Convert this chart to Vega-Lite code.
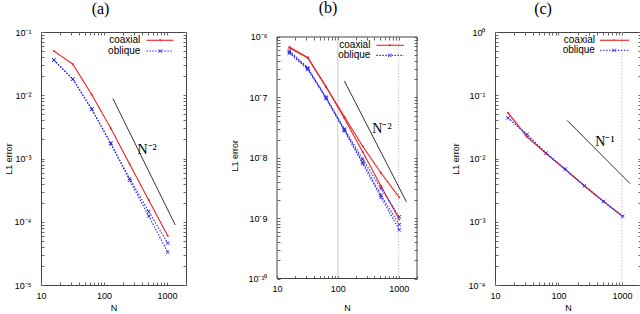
{
"$schema": "https://vega.github.io/schema/vega-lite/v6.json",
"padding": {"left": 3, "top": 0, "right": 0, "bottom": 0},
"background": "white",
"spacing": 43,
"align": "none",
"datasets": {
"pts": [
{"panel":"a","series":"coaxial","run":"a1","N":16,"err":0.050},
{"panel":"a","series":"coaxial","run":"a1","N":32,"err":0.031},
{"panel":"a","series":"coaxial","run":"a1","N":64,"err":0.0102},
{"panel":"a","series":"coaxial","run":"a1","N":128,"err":0.0030},
{"panel":"a","series":"coaxial","run":"a1","N":256,"err":0.00081},
{"panel":"a","series":"coaxial","run":"a1","N":512,"err":0.00022},
{"panel":"a","series":"coaxial","run":"a1","N":1024,"err":0.00006},
{"panel":"a","series":"oblique","run":"a2","N":16,"err":0.036},
{"panel":"a","series":"oblique","run":"a2","N":32,"err":0.018},
{"panel":"a","series":"oblique","run":"a2","N":64,"err":0.0060},
{"panel":"a","series":"oblique","run":"a2","N":128,"err":0.0017},
{"panel":"a","series":"oblique","run":"a2","N":256,"err":0.00048},
{"panel":"a","series":"oblique","run":"a2","N":512,"err":0.000145},
{"panel":"a","series":"oblique","run":"a2","N":1024,"err":0.000046},
{"panel":"a","series":"oblique","run":"a3","N":16,"err":0.036},
{"panel":"a","series":"oblique","run":"a3","N":32,"err":0.018},
{"panel":"a","series":"oblique","run":"a3","N":64,"err":0.0060},
{"panel":"a","series":"oblique","run":"a3","N":128,"err":0.00175},
{"panel":"a","series":"oblique","run":"a3","N":256,"err":0.00045},
{"panel":"a","series":"oblique","run":"a3","N":512,"err":0.000123},
{"panel":"a","series":"oblique","run":"a3","N":1024,"err":0.000033},
{"panel":"b","series":"coaxial","run":"b1","N":16,"err":6.8e-7},
{"panel":"b","series":"coaxial","run":"b1","N":32,"err":4.6e-7},
{"panel":"b","series":"coaxial","run":"b1","N":64,"err":1.5e-7},
{"panel":"b","series":"coaxial","run":"b1","N":128,"err":4.8e-8},
{"panel":"b","series":"coaxial","run":"b1","N":256,"err":1.55e-8},
{"panel":"b","series":"coaxial","run":"b1","N":512,"err":5.6e-9},
{"panel":"b","series":"coaxial","run":"b1","N":1024,"err":2.2e-9},
{"panel":"b","series":"coaxial","run":"b2","N":16,"err":6.6e-7},
{"panel":"b","series":"coaxial","run":"b2","N":32,"err":4.5e-7},
{"panel":"b","series":"coaxial","run":"b2","N":64,"err":1.5e-7},
{"panel":"b","series":"coaxial","run":"b2","N":128,"err":4.5e-8},
{"panel":"b","series":"coaxial","run":"b2","N":256,"err":1.25e-8},
{"panel":"b","series":"coaxial","run":"b2","N":512,"err":3.4e-9},
{"panel":"b","series":"coaxial","run":"b2","N":1024,"err":9.5e-10},
{"panel":"b","series":"oblique","run":"b3","N":16,"err":5.9e-7},
{"panel":"b","series":"oblique","run":"b3","N":32,"err":3.1e-7},
{"panel":"b","series":"oblique","run":"b3","N":64,"err":1.0e-7},
{"panel":"b","series":"oblique","run":"b3","N":128,"err":3.0e-8},
{"panel":"b","series":"oblique","run":"b3","N":256,"err":9.5e-9},
{"panel":"b","series":"oblique","run":"b3","N":512,"err":3.1e-9},
{"panel":"b","series":"oblique","run":"b3","N":1024,"err":1.05e-9},
{"panel":"b","series":"oblique","run":"b4","N":16,"err":5.6e-7},
{"panel":"b","series":"oblique","run":"b4","N":32,"err":3.0e-7},
{"panel":"b","series":"oblique","run":"b4","N":64,"err":9.8e-8},
{"panel":"b","series":"oblique","run":"b4","N":128,"err":2.9e-8},
{"panel":"b","series":"oblique","run":"b4","N":256,"err":8.5e-9},
{"panel":"b","series":"oblique","run":"b4","N":512,"err":2.4e-9},
{"panel":"b","series":"oblique","run":"b4","N":1024,"err":7.8e-10},
{"panel":"b","series":"oblique","run":"b5","N":16,"err":5.4e-7},
{"panel":"b","series":"oblique","run":"b5","N":32,"err":2.9e-7},
{"panel":"b","series":"oblique","run":"b5","N":64,"err":9.6e-8},
{"panel":"b","series":"oblique","run":"b5","N":128,"err":2.8e-8},
{"panel":"b","series":"oblique","run":"b5","N":256,"err":8.0e-9},
{"panel":"b","series":"oblique","run":"b5","N":512,"err":2.2e-9},
{"panel":"b","series":"oblique","run":"b5","N":1024,"err":6.4e-10},
{"panel":"c","series":"coaxial","run":"c1","N":16,"err":0.053},
{"panel":"c","series":"coaxial","run":"c1","N":32,"err":0.022},
{"panel":"c","series":"coaxial","run":"c1","N":64,"err":0.012},
{"panel":"c","series":"coaxial","run":"c1","N":128,"err":0.0067},
{"panel":"c","series":"coaxial","run":"c1","N":256,"err":0.0037},
{"panel":"c","series":"coaxial","run":"c1","N":512,"err":0.0021},
{"panel":"c","series":"coaxial","run":"c1","N":1024,"err":0.00122},
{"panel":"c","series":"oblique","run":"c2","N":16,"err":0.044},
{"panel":"c","series":"oblique","run":"c2","N":32,"err":0.024},
{"panel":"c","series":"oblique","run":"c2","N":64,"err":0.0122},
{"panel":"c","series":"oblique","run":"c2","N":128,"err":0.0068},
{"panel":"c","series":"oblique","run":"c2","N":256,"err":0.0037},
{"panel":"c","series":"oblique","run":"c2","N":512,"err":0.0021},
{"panel":"c","series":"oblique","run":"c2","N":1024,"err":0.00122}
],
"refs": [
{"panel":"a","N":138,"err":0.0089},
{"panel":"a","N":1350,"err":0.000089},
{"panel":"b","N":128,"err":1.87e-7},
{"panel":"b","N":1340,"err":1.86e-9},
{"panel":"c","N":137,"err":0.04},
{"panel":"c","N":1350,"err":0.004}
],
"labels": [
{"panel":"a","N":482,"err":0.00134,"text":"N⁻²"},
{"panel":"b","N":532,"err":3.04e-8,"text":"N⁻²"},
{"panel":"c","N":541,"err":0.0181,"text":"N⁻¹"}
],
"vlines": [
{"panel":"b","N":100,"style":"dash"},
{"panel":"b","N":1000,"style":"dashdot"},
{"panel":"c","N":1000,"style":"dashdot"}
],
"one": [{}]
},
"hconcat": [
{
"width": 145, "height": 253,
"title": {"text": "(a)", "dx": -13, "offset": 11},
"resolve": {"axis": {"x": "independent", "y": "independent"}},
"layer": [
{"data": {"name": "pts"}, "transform": [{"filter": "datum.panel === 'a'"}],
 "mark": {"type": "line", "strokeWidth": 1.1},
 "encoding": {
  "x": {"field": "N", "type": "quantitative", "scale": {"type": "log", "domain": [10, 2000], "nice": false},
   "axis": {"orient": "bottom", "values": [10,20,30,40,50,60,70,80,90,100,200,300,400,500,600,700,800,900,1000,2000], "labelExpr": "datum.value == 10 || datum.value == 100 || datum.value == 1000 ? '' + datum.value : ''", "title": "N", "labelOverlap": false, "labelFlush": false, "labelPadding": 9, "titlePadding": 3}},
  "y": {"field": "err", "type": "quantitative", "scale": {"type": "log", "domain": [0.00001, 0.1], "nice": false},
   "axis": {"orient": "left", "values": [0.00001,0.00002,0.00003,0.00004,0.00005,0.00006,0.00007,0.00008,0.00009,0.0001,0.0002,0.0003,0.0004,0.0005,0.0006,0.0007,0.0008,0.0009,0.001,0.002,0.003,0.004,0.005,0.006,0.007,0.008,0.009,0.01,0.02,0.03,0.04,0.05,0.06,0.07,0.08,0.09,0.1], "labelExpr": "abs(log(datum.value)/LN10 - round(log(datum.value)/LN10)) < 0.001 ? '10' + replace(replace(replace(replace(replace(replace(replace(replace(''+round(log(datum.value)/LN10),'-','⁻'),'0','⁰'),'1','¹'),'2','²'),'3','³'),'4','⁴'),'5','⁵'),'6','⁶') : ''", "title": "L1 error", "labelOverlap": false, "labelFlush": false, "labelPadding": 13, "titlePadding": 1}},
  "color": {"field": "series", "type": "nominal", "scale": {"domain": ["coaxial", "oblique"], "range": ["#ee2222", "#2a2aee"]}, "legend": null},
  "strokeDash": {"field": "series", "type": "nominal", "scale": {"domain": ["coaxial", "oblique"], "range": [[1, 0], [1.5, 1.5]]}, "legend": null},
  "detail": {"field": "run"}
 }},
{"data": {"name": "pts"}, "transform": [{"filter": "datum.panel === 'a'"}],
 "mark": {"type": "point", "size": 12, "strokeWidth": 1, "opacity": 1},
 "encoding": {
  "x": {"field": "N", "type": "quantitative", "axis": null},
  "y": {"field": "err", "type": "quantitative", "axis": null},
  "color": {"field": "series", "type": "nominal", "legend": null},
  "shape": {"field": "series", "type": "nominal", "scale": {"domain": ["coaxial", "oblique"], "range": ["M-0.4,-0.4L0.4,0.4M-0.4,0.4L0.4,-0.4M0,-0.5L0,0.5", "M-1,-1L1,1M-1,1L1,-1"]}, "legend": null}
 }},
{"data": {"name": "refs"}, "transform": [{"filter": "datum.panel === 'a'"}],
 "mark": {"type": "line", "color": "#333333", "strokeWidth": 1},
 "encoding": {
  "x": {"field": "N", "type": "quantitative", "axis": {"orient": "top", "values": [10,20,30,40,50,60,70,80,90,100,200,300,400,500,600,700,800,900,1000,2000], "labels": false, "title": null, "minExtent": 0}},
  "y": {"field": "err", "type": "quantitative", "axis": {"orient": "right", "values": [0.00001,0.00002,0.00003,0.00004,0.00005,0.00006,0.00007,0.00008,0.00009,0.0001,0.0002,0.0003,0.0004,0.0005,0.0006,0.0007,0.0008,0.0009,0.001,0.002,0.003,0.004,0.005,0.006,0.007,0.008,0.009,0.01,0.02,0.03,0.04,0.05,0.06,0.07,0.08,0.09,0.1], "labels": false, "title": null, "minExtent": 0}}
 }},
{"data": {"name": "labels"}, "transform": [{"filter": "datum.panel === 'a'"}],
 "mark": {"type": "text", "font": "Liberation Serif", "fontSize": 14, "align": "center", "baseline": "middle", "color": "#000000"},
 "encoding": {
  "x": {"field": "N", "type": "quantitative", "axis": null},
  "y": {"field": "err", "type": "quantitative", "axis": null},
  "text": {"field": "text"}
 }},
{"data": {"name": "one"}, "mark": {"type": "text", "align": "right", "baseline": "middle", "font": "Liberation Sans", "fontSize": 10, "color": "#000000"},
 "encoding": {"x": {"datum": 377, "type": "quantitative", "axis": null}, "y": {"datum": 0.074, "type": "quantitative", "axis": null}, "text": {"value": "coaxial"}}},
{"data": {"name": "one"}, "mark": {"type": "text", "align": "right", "baseline": "middle", "font": "Liberation Sans", "fontSize": 10, "color": "#000000"},
 "encoding": {"x": {"datum": 377, "type": "quantitative", "axis": null}, "y": {"datum": 0.050, "type": "quantitative", "axis": null}, "text": {"value": "oblique"}}},
{"data": {"name": "one"}, "mark": {"type": "rule", "color": "#ee2222", "strokeWidth": 1.1},
 "encoding": {"x": {"datum": 470, "type": "quantitative", "axis": null}, "x2": {"datum": 1257}, "y": {"datum": 0.074, "type": "quantitative", "axis": null}}},
{"data": {"name": "one"}, "mark": {"type": "rule", "color": "#2a2aee", "strokeWidth": 1.1, "strokeDash": [1.5, 1.5]},
 "encoding": {"x": {"datum": 470, "type": "quantitative", "axis": null}, "x2": {"datum": 1257}, "y": {"datum": 0.050, "type": "quantitative", "axis": null}}},
{"data": {"name": "one"}, "mark": {"type": "point", "shape": "M-0.4,-0.4L0.4,0.4M-0.4,0.4L0.4,-0.4M0,-0.5L0,0.5", "size": 12, "strokeWidth": 1, "color": "#ee2222", "opacity": 1},
 "encoding": {"x": {"datum": 781, "type": "quantitative", "axis": null}, "y": {"datum": 0.074, "type": "quantitative", "axis": null}}},
{"data": {"name": "one"}, "mark": {"type": "point", "shape": "M-1,-1L1,1M-1,1L1,-1", "size": 12, "strokeWidth": 1, "color": "#2a2aee", "opacity": 1},
 "encoding": {"x": {"datum": 781, "type": "quantitative", "axis": null}, "y": {"datum": 0.050, "type": "quantitative", "axis": null}}}
]
},
{
"spacing": 32,
"align": "none",
"hconcat": [
{
"width": 140, "height": 246.5,
"view": {"stroke": null},
"title": {"text": "(b)", "dx": -19, "offset": 16},
"resolve": {"axis": {"x": "independent", "y": "independent"}},
"layer": [
{"data": {"name": "vlines"}, "transform": [{"filter": "datum.panel === 'b'"}],
 "mark": {"type": "rule", "color": "#c4c4c4", "strokeWidth": 1},
 "encoding": {
  "x": {"field": "N", "type": "quantitative", "scale": {"type": "log", "domain": [10, 2000], "nice": false},
   "axis": {"orient": "bottom", "values": [10,20,30,40,50,60,70,80,90,100,200,300,400,500,600,700,800,900,1000,2000], "labelExpr": "datum.value == 10 || datum.value == 100 || datum.value == 1000 ? '' + datum.value : ''", "title": "N", "labelOverlap": false, "labelFlush": false, "labelPadding": 9, "titlePadding": 9.5}},
  "y": {"datum": 1e-10, "type": "quantitative", "scale": {"type": "log", "domain": [1e-10, 1.21e-6], "nice": false},
   "axis": {"orient": "left", "values": [1e-10,2e-10,3e-10,4e-10,5e-10,6e-10,7e-10,8e-10,9e-10,1e-9,2e-9,3e-9,4e-9,5e-9,6e-9,7e-9,8e-9,9e-9,1e-8,2e-8,3e-8,4e-8,5e-8,6e-8,7e-8,8e-8,9e-8,1e-7,2e-7,3e-7,4e-7,5e-7,6e-7,7e-7,8e-7,9e-7,1e-6], "labelExpr": "abs(log(datum.value)/LN10 - round(log(datum.value)/LN10)) < 0.001 ? '10' + replace(replace(replace(replace(replace(replace(replace(replace(''+round(log(datum.value)/LN10),'-','⁻'),'0','⁰'),'1','¹'),'2','²'),'3','³'),'4','⁴'),'5','⁵'),'6','⁶') : ''", "title": "L1 error", "labelOverlap": false, "labelFlush": false, "labelPadding": 13, "titlePadding": 8.6}},
  "y2": {"datum": 1e-6},
  "strokeDash": {"field": "style", "type": "nominal", "scale": {"domain": ["dash", "dashdot"], "range": [[2, 3], [5, 2, 1, 2]]}, "legend": null}
 }},
{"data": {"name": "pts"}, "transform": [{"filter": "datum.panel === 'b'"}],
 "mark": {"type": "line", "strokeWidth": 1.1},
 "encoding": {
  "x": {"field": "N", "type": "quantitative", "axis": null},
  "y": {"field": "err", "type": "quantitative", "axis": null},
  "color": {"field": "series", "type": "nominal", "scale": {"domain": ["coaxial", "oblique"], "range": ["#ee2222", "#2a2aee"]}, "legend": null},
  "strokeDash": {"field": "series", "type": "nominal", "scale": {"domain": ["coaxial", "oblique"], "range": [[1, 0], [1.5, 1.5]]}, "legend": null},
  "detail": {"field": "run"}
 }},
{"data": {"name": "pts"}, "transform": [{"filter": "datum.panel === 'b'"}],
 "mark": {"type": "point", "size": 12, "strokeWidth": 1, "opacity": 1},
 "encoding": {
  "x": {"field": "N", "type": "quantitative", "axis": null},
  "y": {"field": "err", "type": "quantitative", "axis": null},
  "color": {"field": "series", "type": "nominal", "legend": null},
  "shape": {"field": "series", "type": "nominal", "scale": {"domain": ["coaxial", "oblique"], "range": ["M-0.4,-0.4L0.4,0.4M-0.4,0.4L0.4,-0.4M0,-0.5L0,0.5", "M-1,-1L1,1M-1,1L1,-1"]}, "legend": null}
 }},
{"data": {"name": "refs"}, "transform": [{"filter": "datum.panel === 'b'"}],
 "mark": {"type": "line", "color": "#333333", "strokeWidth": 1},
 "encoding": {
  "x": {"field": "N", "type": "quantitative", "axis": {"orient": "top", "offset": -5, "values": [10,20,30,40,50,60,70,80,90,100,200,300,400,500,600,700,800,900,1000,2000], "labels": false, "title": null, "minExtent": 0}},
  "y": {"field": "err", "type": "quantitative", "axis": {"orient": "right", "values": [1e-10,2e-10,3e-10,4e-10,5e-10,6e-10,7e-10,8e-10,9e-10,1e-9,2e-9,3e-9,4e-9,5e-9,6e-9,7e-9,8e-9,9e-9,1e-8,2e-8,3e-8,4e-8,5e-8,6e-8,7e-8,8e-8,9e-8,1e-7,2e-7,3e-7,4e-7,5e-7,6e-7,7e-7,8e-7,9e-7,1e-6], "labels": false, "title": null, "minExtent": 0}}
 }},
{"data": {"name": "labels"}, "transform": [{"filter": "datum.panel === 'b'"}],
 "mark": {"type": "text", "font": "Liberation Serif", "fontSize": 14, "align": "center", "baseline": "middle", "color": "#000000"},
 "encoding": {
  "x": {"field": "N", "type": "quantitative", "axis": null},
  "y": {"field": "err", "type": "quantitative", "axis": null},
  "text": {"field": "text"}
 }},
{"data": {"name": "one"}, "mark": {"type": "rect", "fill": "transparent", "stroke": "#444444", "strokeWidth": 1},
 "encoding": {"x": {"datum": 10, "type": "quantitative", "axis": null}, "x2": {"datum": 2000}, "y": {"datum": 1e-10, "type": "quantitative", "axis": null}, "y2": {"datum": 1e-6}}},
{"data": {"name": "one"}, "mark": {"type": "text", "align": "right", "baseline": "middle", "font": "Liberation Sans", "fontSize": 10, "color": "#000000"},
 "encoding": {"x": {"datum": 343, "type": "quantitative", "axis": null}, "y": {"datum": 7.29e-7, "type": "quantitative", "axis": null}, "text": {"value": "coaxial"}}},
{"data": {"name": "one"}, "mark": {"type": "text", "align": "right", "baseline": "middle", "font": "Liberation Sans", "fontSize": 10, "color": "#000000"},
 "encoding": {"x": {"datum": 343, "type": "quantitative", "axis": null}, "y": {"datum": 4.97e-7, "type": "quantitative", "axis": null}, "text": {"value": "oblique"}}},
{"data": {"name": "one"}, "mark": {"type": "rule", "color": "#ee2222", "strokeWidth": 1.1},
 "encoding": {"x": {"datum": 430, "type": "quantitative", "axis": null}, "x2": {"datum": 1211}, "y": {"datum": 7.29e-7, "type": "quantitative", "axis": null}}},
{"data": {"name": "one"}, "mark": {"type": "rule", "color": "#2a2aee", "strokeWidth": 1.1, "strokeDash": [1.5, 1.5]},
 "encoding": {"x": {"datum": 430, "type": "quantitative", "axis": null}, "x2": {"datum": 1211}, "y": {"datum": 4.97e-7, "type": "quantitative", "axis": null}}},
{"data": {"name": "one"}, "mark": {"type": "point", "shape": "M-0.4,-0.4L0.4,0.4M-0.4,0.4L0.4,-0.4M0,-0.5L0,0.5", "size": 12, "strokeWidth": 1, "color": "#ee2222", "opacity": 1},
 "encoding": {"x": {"datum": 711, "type": "quantitative", "axis": null}, "y": {"datum": 7.29e-7, "type": "quantitative", "axis": null}}},
{"data": {"name": "one"}, "mark": {"type": "point", "shape": "M-1,-1L1,1M-1,1L1,-1", "size": 12, "strokeWidth": 1, "color": "#2a2aee", "opacity": 1},
 "encoding": {"x": {"datum": 711, "type": "quantitative", "axis": null}, "y": {"datum": 4.97e-7, "type": "quantitative", "axis": null}}}
]
},
{
"width": 146, "height": 253,
"title": {"text": "(c)", "dx": -25, "offset": 11},
"resolve": {"axis": {"x": "independent", "y": "independent"}},
"layer": [
{"data": {"name": "vlines"}, "transform": [{"filter": "datum.panel === 'c'"}],
 "mark": {"type": "rule", "color": "#c4c4c4", "strokeWidth": 1},
 "encoding": {
  "x": {"field": "N", "type": "quantitative", "scale": {"type": "log", "domain": [10, 2000], "nice": false},
   "axis": {"orient": "bottom", "values": [10,20,30,40,50,60,70,80,90,100,200,300,400,500,600,700,800,900,1000,2000], "labelExpr": "datum.value == 10 || datum.value == 100 || datum.value == 1000 ? '' + datum.value : ''", "title": "N", "labelOverlap": false, "labelFlush": false, "labelPadding": 9, "titlePadding": 3}},
  "strokeDash": {"field": "style", "type": "nominal", "scale": {"domain": ["dash", "dashdot"], "range": [[2, 3], [5, 2, 1, 2]]}, "legend": null}
 }},
{"data": {"name": "pts"}, "transform": [{"filter": "datum.panel === 'c'"}],
 "mark": {"type": "line", "strokeWidth": 1.3},
 "encoding": {
  "x": {"field": "N", "type": "quantitative", "axis": null},
  "y": {"field": "err", "type": "quantitative", "scale": {"type": "log", "domain": [0.0001, 1], "nice": false},
   "axis": {"orient": "left", "values": [0.0001,0.0002,0.0003,0.0004,0.0005,0.0006,0.0007,0.0008,0.0009,0.001,0.002,0.003,0.004,0.005,0.006,0.007,0.008,0.009,0.01,0.02,0.03,0.04,0.05,0.06,0.07,0.08,0.09,0.1,0.2,0.3,0.4,0.5,0.6,0.7,0.8,0.9,1], "labelExpr": "abs(log(datum.value)/LN10 - round(log(datum.value)/LN10)) < 0.001 ? '10' + replace(replace(replace(replace(replace(replace(replace(replace(''+round(log(datum.value)/LN10),'-','⁻'),'0','⁰'),'1','¹'),'2','²'),'3','³'),'4','⁴'),'5','⁵'),'6','⁶') : ''", "title": "L1 error", "labelOverlap": false, "labelFlush": false, "labelPadding": 13, "titlePadding": 8}},
  "color": {"field": "series", "type": "nominal", "scale": {"domain": ["coaxial", "oblique"], "range": ["#f04040", "#4a4af0"]}, "legend": null},
  "strokeDash": {"field": "series", "type": "nominal", "scale": {"domain": ["coaxial", "oblique"], "range": [[1, 0], [1.5, 1.5]]}, "legend": null},
  "detail": {"field": "run"}
 }},
{"data": {"name": "pts"}, "transform": [{"filter": "datum.panel === 'c'"}],
 "mark": {"type": "point", "size": 12, "strokeWidth": 1, "opacity": 1},
 "encoding": {
  "x": {"field": "N", "type": "quantitative", "axis": null},
  "y": {"field": "err", "type": "quantitative", "axis": null},
  "color": {"field": "series", "type": "nominal", "legend": null},
  "shape": {"field": "series", "type": "nominal", "scale": {"domain": ["coaxial", "oblique"], "range": ["M-0.4,-0.4L0.4,0.4M-0.4,0.4L0.4,-0.4M0,-0.5L0,0.5", "M-1,-1L1,1M-1,1L1,-1"]}, "legend": null}
 }},
{"data": {"name": "refs"}, "transform": [{"filter": "datum.panel === 'c'"}],
 "mark": {"type": "line", "color": "#333333", "strokeWidth": 1},
 "encoding": {
  "x": {"field": "N", "type": "quantitative", "axis": {"orient": "top", "values": [10,20,30,40,50,60,70,80,90,100,200,300,400,500,600,700,800,900,1000,2000], "labels": false, "title": null, "minExtent": 0}},
  "y": {"field": "err", "type": "quantitative", "axis": {"orient": "right", "values": [0.0001,0.0002,0.0003,0.0004,0.0005,0.0006,0.0007,0.0008,0.0009,0.001,0.002,0.003,0.004,0.005,0.006,0.007,0.008,0.009,0.01,0.02,0.03,0.04,0.05,0.06,0.07,0.08,0.09,0.1,0.2,0.3,0.4,0.5,0.6,0.7,0.8,0.9,1], "labels": false, "title": null, "minExtent": 0}}
 }},
{"data": {"name": "labels"}, "transform": [{"filter": "datum.panel === 'c'"}],
 "mark": {"type": "text", "font": "Liberation Serif", "fontSize": 14, "align": "center", "baseline": "middle", "color": "#000000"},
 "encoding": {
  "x": {"field": "N", "type": "quantitative", "axis": null},
  "y": {"field": "err", "type": "quantitative", "axis": null},
  "text": {"field": "text"}
 }},
{"data": {"name": "one"}, "mark": {"type": "text", "align": "right", "baseline": "middle", "font": "Liberation Sans", "fontSize": 10, "color": "#000000"},
 "encoding": {"x": {"datum": 376, "type": "quantitative", "axis": null}, "y": {"datum": 0.739, "type": "quantitative", "axis": null}, "text": {"value": "coaxial"}}},
{"data": {"name": "one"}, "mark": {"type": "text", "align": "right", "baseline": "middle", "font": "Liberation Sans", "fontSize": 10, "color": "#000000"},
 "encoding": {"x": {"datum": 376, "type": "quantitative", "axis": null}, "y": {"datum": 0.513, "type": "quantitative", "axis": null}, "text": {"value": "oblique"}}},
{"data": {"name": "one"}, "mark": {"type": "rule", "color": "#f04040", "strokeWidth": 1.3},
 "encoding": {"x": {"datum": 451, "type": "quantitative", "axis": null}, "x2": {"datum": 1294}, "y": {"datum": 0.739, "type": "quantitative", "axis": null}}},
{"data": {"name": "one"}, "mark": {"type": "rule", "color": "#4a4af0", "strokeWidth": 1.1, "strokeDash": [1.5, 1.5]},
 "encoding": {"x": {"datum": 451, "type": "quantitative", "axis": null}, "x2": {"datum": 1294}, "y": {"datum": 0.513, "type": "quantitative", "axis": null}}},
{"data": {"name": "one"}, "mark": {"type": "point", "shape": "M-0.4,-0.4L0.4,0.4M-0.4,0.4L0.4,-0.4M0,-0.5L0,0.5", "size": 12, "strokeWidth": 1, "color": "#f04040", "opacity": 1},
 "encoding": {"x": {"datum": 750, "type": "quantitative", "axis": null}, "y": {"datum": 0.739, "type": "quantitative", "axis": null}}},
{"data": {"name": "one"}, "mark": {"type": "point", "shape": "M-1,-1L1,1M-1,1L1,-1", "size": 12, "strokeWidth": 1, "color": "#4a4af0", "opacity": 1},
 "encoding": {"x": {"datum": 750, "type": "quantitative", "axis": null}, "y": {"datum": 0.513, "type": "quantitative", "axis": null}}}
]
}
]
}
],
"config": {
 "view": {"stroke": "#444444", "strokeWidth": 1},
 "axis": {"labelFont": "Liberation Sans", "labelFontSize": 9, "labelColor": "#000000", "titleFont": "Liberation Sans", "titleFontSize": 9, "titleFontWeight": "normal", "titleColor": "#000000", "grid": false, "domain": false, "tickColor": "#666666", "tickSize": -3, "tickWidth": 1},
 "title": {"font": "Liberation Serif", "fontSize": 16, "fontWeight": "normal", "color": "#000000", "anchor": "middle"}
}
}
